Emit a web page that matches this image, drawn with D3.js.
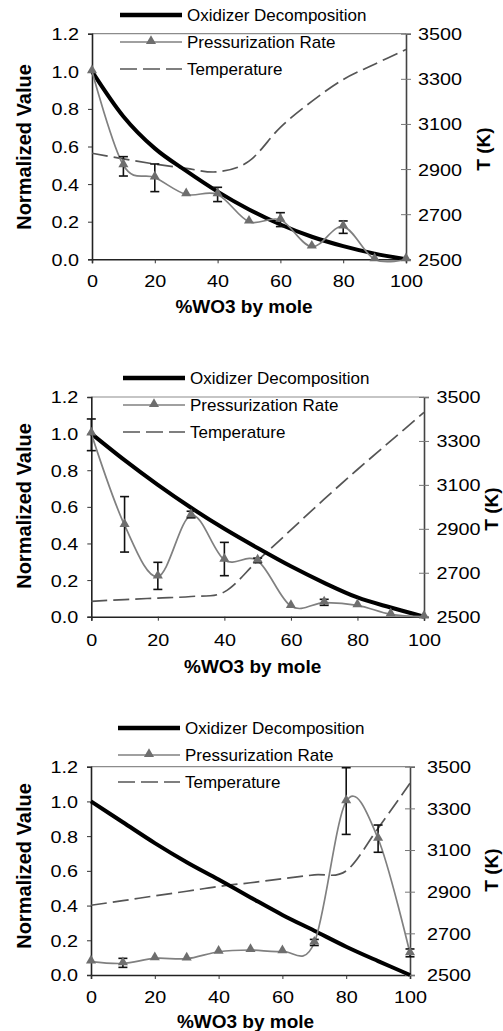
<!DOCTYPE html>
<html lang="en">
<head>
    <meta charset="UTF-8">
    <title>WO3 panels</title>
    <script src="https://cdn.jsdelivr.net/npm/d3@7"></script>
    <style>
        body { margin: 0; background: #fff; }
        text { font-family: "Liberation Sans", Arial, sans-serif; fill: #000; }
    </style>
</head>
<body>
<svg id="chart" width="503" height="1031"></svg>

<script>
    /* global d3 */

    // %WO3 by mole
    var molePct = [0, 10, 20, 30, 40, 50, 60, 70, 80, 90, 100];
    var xTicks = [0, 20, 40, 60, 80, 100];
    var yTicks = [0, 0.2, 0.4, 0.6, 0.8, 1.0, 1.2];
    var tTicks = [2500, 2700, 2900, 3100, 3300, 3500];
    var seriesNames = ["Oxidizer Decomposition", "Pressurization Rate", "Temperature"];

    // panel 1
    var oxid1 = [1.0, 0.76, 0.59, 0.47, 0.36, 0.265, 0.185, 0.12, 0.07, 0.03, 0.0];
    var press1 = [1.0, 0.50, 0.435, 0.345, 0.345, 0.20, 0.21, 0.067, 0.174, 0.0, 0.0];
    var errLo1 = [null, 0.443, 0.36, null, 0.307, null, 0.174, null, 0.138, null, null];
    var errHi1 = [null, 0.546, 0.507, null, 0.383, null, 0.248, null, 0.204, null, null];
    var temp1 = [2970, 2945, 2922, 2903, 2888, 2935, 3085, 3200, 3297, 3365, 3430];

    // panel 2
    var oxid2 = [1.0, 0.855, 0.72, 0.595, 0.48, 0.375, 0.275, 0.185, 0.105, 0.05, 0.0];
    var press2 = [1.0, 0.50, 0.219, 0.554, 0.31, 0.306, 0.058, 0.077, 0.062, 0.013, 0.0];
    var errLo2 = [0.907, 0.353, 0.149, 0.54, 0.224, 0.295, null, 0.062, null, null, null];
    var errHi2 = [1.08, 0.656, 0.297, 0.576, 0.406, 0.32, null, 0.095, null, null, null];
    var temp2 = [2570, 2578, 2585, 2592, 2613, 2755, 2895, 3035, 3170, 3300, 3430];

    // panel 3
    var oxid3 = [1.0, 0.88, 0.76, 0.65, 0.55, 0.447, 0.346, 0.255, 0.163, 0.08, 0.0];
    var press3 = [0.077, 0.067, 0.096, 0.094, 0.134, 0.144, 0.136, 0.186, 1.0, 0.785, 0.125];
    var errLo3 = [null, 0.044, null, null, null, null, null, 0.17, 0.81, 0.707, 0.105];
    var errHi3 = [null, 0.096, null, null, null, null, null, 0.205, 1.194, 0.864, 0.15];
    var temp3 = [2835, 2857, 2880, 2902, 2925, 2943, 2962, 2981, 3000, 3205, 3420];

    var svg = d3.select("#chart");
    var sx = 1.2; // tick labels are drawn a bit wide

    var panels = [
        {left: 92, right: 406, top: 33.7, bottom: 259.3, legX: 120, legY: 15, tickY: 287, xLabY: 313,
            yLabY: 147, tLabX: 489.5, tLabY: 149, rLabDx: 12,
            oxid: oxid1, press: press1, lo: errLo1, hi: errHi1, temp: temp1},
        {left: 91.3, right: 424, top: 397, bottom: 616.7, legX: 123, legY: 378, tickY: 646, xLabY: 673,
            yLabY: 506, tLabX: 497.5, tLabY: 509, rLabDx: 12.5,
            oxid: oxid2, press: press2, lo: errLo2, hi: errHi2, temp: temp2},
        {left: 91, right: 410, top: 766.7, bottom: 975, legX: 118, legY: 728, tickY: 1003, xLabY: 1028,
            yLabY: 866, tLabX: 497.5, tLabY: 870, rLabDx: 17,
            oxid: oxid3, press: press3, lo: errLo3, hi: errHi3, temp: temp3}
    ];

    panels.forEach(drawPanel);

    function drawPanel(p) {
        var x = d3.scaleLinear().domain([0, 100]).range([p.left, p.right]),
            y = d3.scaleLinear().domain([0, 1.2]).range([p.bottom, p.top]),
            t = d3.scaleLinear().domain([2500, 3500]).range([p.bottom, p.top]),
            smooth = d3.curveCardinal.tension(0);

        var g = svg.append("g");

        // top border
        g.append("line")
            .attr("x1", p.left).attr("x2", p.right)
            .attr("y1", p.top).attr("y2", p.top)
            .attr("stroke", "#8c8c8c").attr("stroke-width", 1.2);

        var yAxis = g.append("g")
            .attr("transform", "translate(" + p.left + ",0)")
            .call(d3.axisLeft(y).tickValues(yTicks).tickFormat(d3.format(".1f")).tickSize(4));
        var xAxis = g.append("g")
            .attr("transform", "translate(0," + p.bottom + ")")
            .call(d3.axisBottom(x).tickValues(xTicks).tickSize(4));
        var tAxis = g.append("g")
            .attr("transform", "translate(" + p.right + ",0)")
            .call(d3.axisRight(t).tickValues(tTicks).tickFormat(d3.format("d")).tickSize(5));

        [yAxis, xAxis, tAxis].forEach(function (a) {
            a.select(".domain").attr("stroke", "#222").attr("stroke-width", 1.6);
            a.selectAll("text").style("font-size", "16.5px").attr("fill", "#000");
        });
        tAxis.select(".domain").attr("stroke", "#444");
        tAxis.selectAll(".tick line").attr("x1", -5).attr("stroke", "#777");
        yAxis.selectAll(".tick line").attr("stroke", "#333");
        xAxis.selectAll(".tick line").attr("stroke", "#333");

        // widen labels: scale x about the text anchor
        yAxis.selectAll("text").attr("x", -13 / sx).attr("dy", "0.36em")
            .attr("transform", "scale(" + sx + ",1)");
        tAxis.selectAll("text").attr("x", p.rLabDx / sx).attr("dy", "0.36em")
            .attr("transform", "scale(" + sx + ",1)");
        xAxis.selectAll("text").attr("y", null).attr("dy", null)
            .attr("transform", "translate(0," + (p.tickY - p.bottom) + ") scale(" + sx + ",1)");

        // temperature (dashed)
        g.append("path")
            .datum(molePct)
            .attr("fill", "none")
            .attr("stroke", "#555")
            .attr("stroke-width", 1.7)
            .attr("stroke-dasharray", "16,6")
            .attr("d", d3.line().curve(smooth)
                .x(function (d) { return x(d); })
                .y(function (d, i) { return t(p.temp[i]); }));

        // oxidizer decomposition
        g.append("path")
            .datum(molePct)
            .attr("fill", "none")
            .attr("stroke", "#000")
            .attr("stroke-width", 4)
            .attr("d", d3.line().curve(smooth)
                .x(function (d) { return x(d); })
                .y(function (d, i) { return y(p.oxid[i]); }));

        // pressurization rate
        g.append("path")
            .datum(molePct)
            .attr("fill", "none")
            .attr("stroke", "#808080")
            .attr("stroke-width", 1.7)
            .attr("d", d3.line().curve(smooth)
                .x(function (d) { return x(d); })
                .y(function (d, i) { return y(p.press[i]); }));

        // error bars
        var bars = molePct.map(function (d, i) {
            return {x: d, lo: p.lo[i], hi: p.hi[i]};
        }).filter(function (d) { return d.lo !== null; });

        var eb = g.selectAll(".err").data(bars).enter().append("g")
            .attr("stroke", "#111").attr("stroke-width", 1.6);
        eb.append("line")
            .attr("x1", function (d) { return x(d.x); })
            .attr("x2", function (d) { return x(d.x); })
            .attr("y1", function (d) { return y(d.lo); })
            .attr("y2", function (d) { return y(d.hi); });
        eb.append("line")
            .attr("x1", function (d) { return x(d.x) - 4.5; })
            .attr("x2", function (d) { return x(d.x) + 4.5; })
            .attr("y1", function (d) { return y(d.lo); })
            .attr("y2", function (d) { return y(d.lo); });
        eb.append("line")
            .attr("x1", function (d) { return x(d.x) - 4.5; })
            .attr("x2", function (d) { return x(d.x) + 4.5; })
            .attr("y1", function (d) { return y(d.hi); })
            .attr("y2", function (d) { return y(d.hi); });

        // triangle markers
        var tri = d3.symbol().type(d3.symbolTriangle).size(44);
        g.selectAll(".mk").data(molePct).enter().append("path")
            .attr("d", tri)
            .attr("fill", "#6e6e6e")
            .attr("transform", function (d, i) {
                return "translate(" + x(d) + "," + (y(p.press[i]) - 1) + ")";
            });

        // axis titles
        g.append("text")
            .attr("x", (p.left + p.right) / 2 - 5)
            .attr("y", p.xLabY)
            .attr("text-anchor", "middle")
            .style("font-size", "19px")
            .style("font-weight", "bold")
            .text("%WO3 by mole");
        g.append("text")
            .attr("transform", "translate(31," + p.yLabY + ") rotate(-90)")
            .attr("text-anchor", "middle")
            .style("font-size", "20px")
            .style("font-weight", "bold")
            .text("Normalized Value");
        g.append("text")
            .attr("transform", "translate(" + p.tLabX + "," + p.tLabY + ") rotate(-90)")
            .attr("text-anchor", "middle")
            .style("font-size", "19px")
            .style("font-weight", "bold")
            .text("T (K)");

        // legend
        var leg = g.append("g").attr("transform", "translate(" + p.legX + "," + p.legY + ")");
        var rowH = 27, lineW = 62;
        leg.append("line").attr("x1", 0).attr("x2", lineW).attr("y1", 0).attr("y2", 0)
            .attr("stroke", "#000").attr("stroke-width", 4.5);
        leg.append("line").attr("x1", 0).attr("x2", lineW).attr("y1", rowH).attr("y2", rowH)
            .attr("stroke", "#808080").attr("stroke-width", 1.7);
        leg.append("path").attr("d", tri).attr("fill", "#6e6e6e")
            .attr("transform", "translate(" + (lineW / 2) + "," + (rowH - 1) + ")");
        leg.append("line").attr("x1", 0).attr("x2", lineW).attr("y1", rowH * 2).attr("y2", rowH * 2)
            .attr("stroke", "#555").attr("stroke-width", 1.7).attr("stroke-dasharray", "17,6");
        leg.selectAll(".lt").data(seriesNames).enter().append("text")
            .attr("x", lineW + 5)
            .attr("y", function (d, i) { return i * rowH; })
            .attr("dy", "0.36em")
            .style("font-size", "17px")
            .text(function (d) { return d; });
    }
</script>
</body>
</html>
